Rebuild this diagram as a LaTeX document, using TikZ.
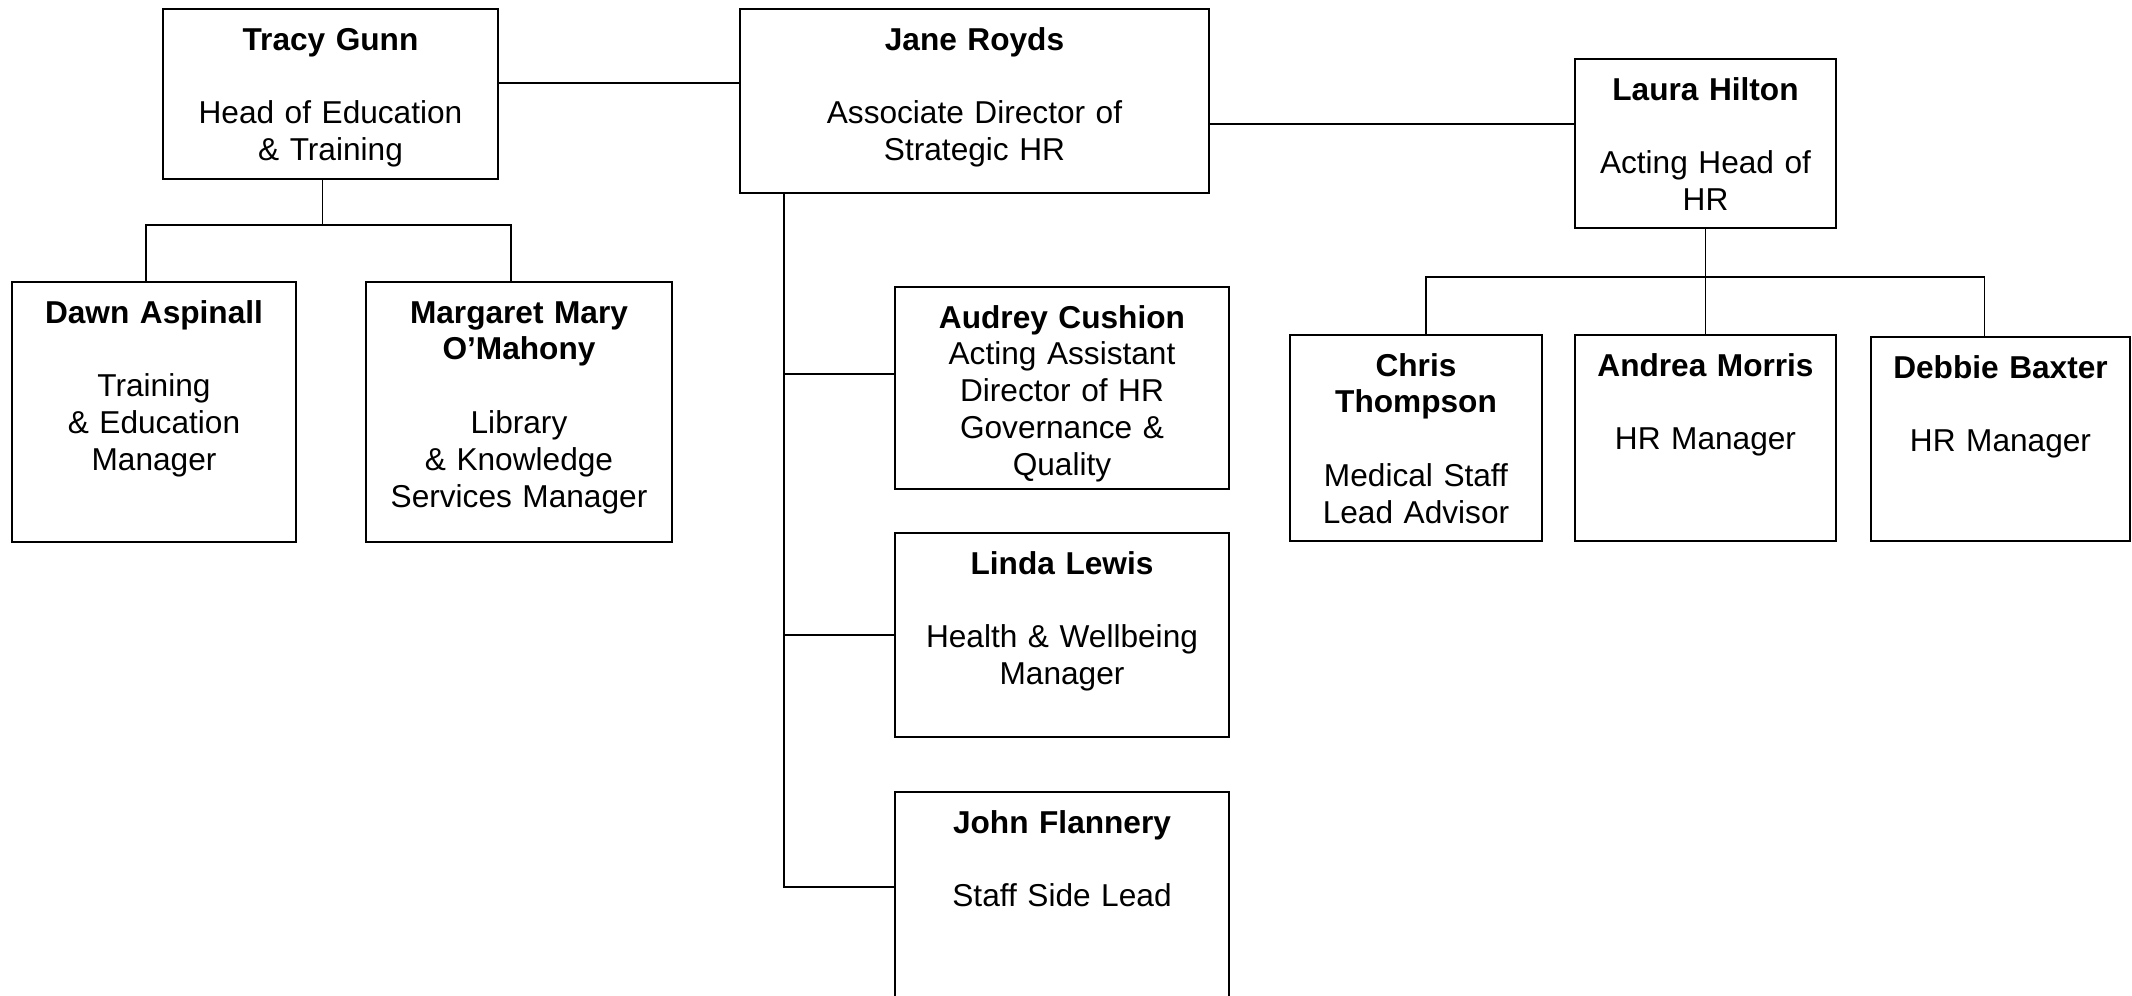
\documentclass[tikz,border=0pt]{standalone}
\usepackage{fontspec}
\setmainfont{Liberation Sans}
\usetikzlibrary{calc,positioning}

\begin{document}
\begin{tikzpicture}[
    font=\fontsize{9}{10.5}\selectfont,
    unit/.style={draw, line width=0.6pt, anchor=north, align=center,
      inner sep=0pt, text height=4.1mm},
    link/.style={draw, line width=0.55pt}
  ]
    \useasboundingbox (0,0) rectangle (21.32,-9.95);

    \node[unit, text width=33.5mm, text depth=12.9mm] (tracy) at (3.305,-0.08) {\textbf{Tracy Gunn}\\[10.5pt]Head of Education\\\& Training};
    \node[unit, text width=46.9mm, text depth=14.3mm] (jane) at (9.745,-0.08) {\textbf{Jane Royds}\\[10.5pt]Associate Director of\\Strategic HR};
    \node[unit, text width=26.1mm, text depth=12.8mm] (laura) at (17.055,-0.58) {\textbf{Laura Hilton}\\[10.5pt]Acting Head of\\HR};

    \node[unit, text width=28.4mm, text depth=21.9mm] (dawn) at (1.54,-2.81) {\textbf{Dawn Aspinall}\\[10.5pt]Training\\\& Education\\Manager};
    \node[unit, text width=30.6mm, text depth=21.9mm] (margaret) at (5.19,-2.81) {\textbf{Margaret Mary}\\\textbf{O’Mahony}\\[10.5pt]Library\\\& Knowledge\\Services Manager};

    \node[unit, text width=33.4mm, text depth=16.1mm] (audrey) at (10.62,-2.86) {\textbf{Audrey Cushion}\\Acting Assistant\\Director of HR\\Governance \&\\Quality};
    \node[unit, text width=33.4mm, text depth=16.3mm] (linda) at (10.62,-5.32) {\textbf{Linda Lewis}\\[10.5pt]Health \& Wellbeing\\Manager};
    \node[unit, text width=33.4mm, text depth=17mm] (john) at (10.62,-7.91) {\textbf{John Flannery}\\[10.5pt]Staff Side Lead};

    \node[unit, text width=25.2mm, text depth=16.5mm] (chris) at (14.16,-3.34) {\textbf{Chris}\\\textbf{Thompson}\\[10.5pt]Medical Staff\\Lead Advisor};
    \node[unit, text width=26.1mm, text depth=16.5mm] (andrea) at (17.055,-3.34) {\textbf{Andrea Morris}\\[10.5pt]HR Manager};
    \node[unit, text width=25.9mm, text depth=16.3mm] (debbie) at (20.005,-3.36) {\textbf{Debbie Baxter}\\[10.5pt]HR Manager};

    % top row
    \draw[link] ([yshift=1.1mm]tracy.east) -- ([yshift=1.1mm]tracy.east -| jane.west);
    \draw[link] ([yshift=2mm]laura.west) -- ([yshift=2mm]laura.west -| jane.east);

    % education and training
    \draw[link] ([xshift=-0.8mm]tracy.south) -- ++(0,-0.45) coordinate (tracybus);
    \draw[link] ([xshift=-0.8mm]dawn.north) |- (tracybus) -| ([xshift=-0.8mm]margaret.north);

    % strategic HR
    \coordinate (janetrunk) at ([xshift=4.5mm]jane.south west);
    \draw[link] (janetrunk) |- ([yshift=1.1mm]john.west);
    \draw[link] ([yshift=1.4mm]audrey.west) -- ([yshift=1.4mm]audrey.west -| janetrunk);
    \draw[link] (linda.west) -- (linda.west -| janetrunk);

    % HR
    \draw[link] (laura.south) -- (andrea.north);
    \draw[link] ([xshift=1mm]chris.north) |- ([yshift=5.7mm]andrea.north) -| ([xshift=-1.6mm]debbie.north);
\end{tikzpicture}
\end{document}
